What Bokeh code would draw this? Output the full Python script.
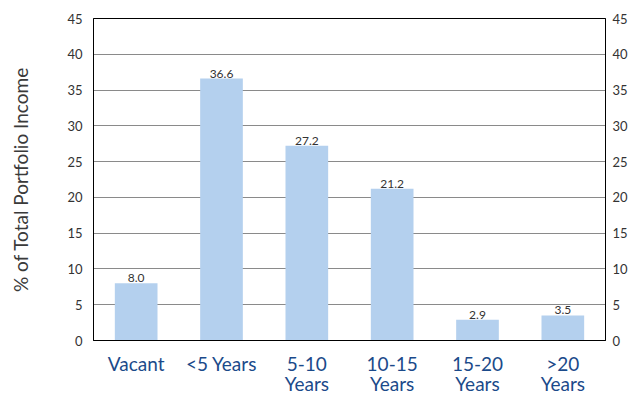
from bokeh.plotting import figure
from bokeh.models import Range1d, FactorRange, LinearAxis, CategoricalAxis, FixedTicker, ColumnDataSource
from bokeh.core.properties import value as V
from bokeh.embed import file_html
from bokeh.resources import INLINE

categories = ["Vacant", "<5 Years", "5-10 Years", "10-15 Years", "15-20 Years", ">20 Years"]
label_line1 = ["Vacant", "<5 Years", "5-10", "10-15", "15-20", ">20"]
label_line2 = ["", "", "Years", "Years", "Years", "Years"]
values = [8.0, 36.6, 27.2, 21.2, 2.9, 3.5]
y_ticks = [0, 5, 10, 15, 20, 25, 30, 35, 40, 45]

FONT = "Lato"
ZW = "\u200b"

# second-line factors must be unique: pad with zero-width spaces
line2_factors = [(t if t else " ") + ZW * (i + 1) for i, t in enumerate(label_line2)]

src = ColumnDataSource(dict(cat=label_line1, val=values,
                            lbl=["%.1f" % v for v in values]))

p = figure(width=630, height=397, x_range=FactorRange(*label_line1),
           y_range=Range1d(0, 45), output_backend="svg", toolbar_location=None,
           min_border_left=93, min_border_right=0, min_border_top=18,
           min_border_bottom=55)
p.extra_x_ranges = {"line2": FactorRange(*line2_factors)}
p.outline_line_color = "black"
p.outline_line_width = 1
p.background_fill_color = "white"
p.border_fill_color = "white"

p.vbar(x="cat", top="val", width=0.5, source=src, fill_color="#B4D0EE",
       line_color=None)
p.text(x="cat", y="val", text="lbl", source=src, text_align="center",
       text_baseline="bottom", y_offset=-1, text_font_size="12px",
       text_color="#333333", text_font=V(FONT))

p.xgrid.grid_line_color = None
p.ygrid.ticker = FixedTicker(ticks=y_ticks)
p.ygrid.grid_line_color = "#8a8a8a"
p.ygrid.grid_line_width = 1

ya = p.yaxis[0]
ya.ticker = FixedTicker(ticks=y_ticks)
ya.axis_label = "% of Total Portfolio Income"
ya.axis_label_text_font = FONT
ya.axis_label_text_font_size = "19px"
ya.axis_label_text_font_style = "normal"
ya.axis_label_text_color = "#3a3a3a"
ya.axis_label_standoff = 32
ya.major_tick_line_color = None
ya.minor_tick_line_color = None
ya.axis_line_color = "black"
ya.major_label_text_font = FONT
ya.major_label_text_font_size = "13px"
ya.major_label_text_color = "#333333"
ya.major_label_standoff = 5

ra = LinearAxis(ticker=FixedTicker(ticks=y_ticks))
ra.major_tick_line_color = None
ra.minor_tick_line_color = None
ra.axis_line_color = "black"
ra.major_label_text_font = FONT
ra.major_label_text_font_size = "13px"
ra.major_label_text_color = "#333333"
ra.major_label_standoff = 1
p.add_layout(ra, "right")

xa = p.xaxis[0]
xa.major_tick_line_color = None
xa.axis_line_color = "black"
xa.major_label_text_font = FONT
xa.major_label_text_font_size = "19px"
xa.major_label_text_color = "#1B4A8A"
xa.major_label_standoff = 5

xb = CategoricalAxis(x_range_name="line2")
xb.major_tick_line_color = None
xb.axis_line_color = None
xb.major_label_text_font = FONT
xb.major_label_text_font_size = "19px"
xb.major_label_text_color = "#1B4A8A"
xb.major_label_standoff = -12
p.add_layout(xb, "below")

open("out.html", "w").write(file_html(p, INLINE))
